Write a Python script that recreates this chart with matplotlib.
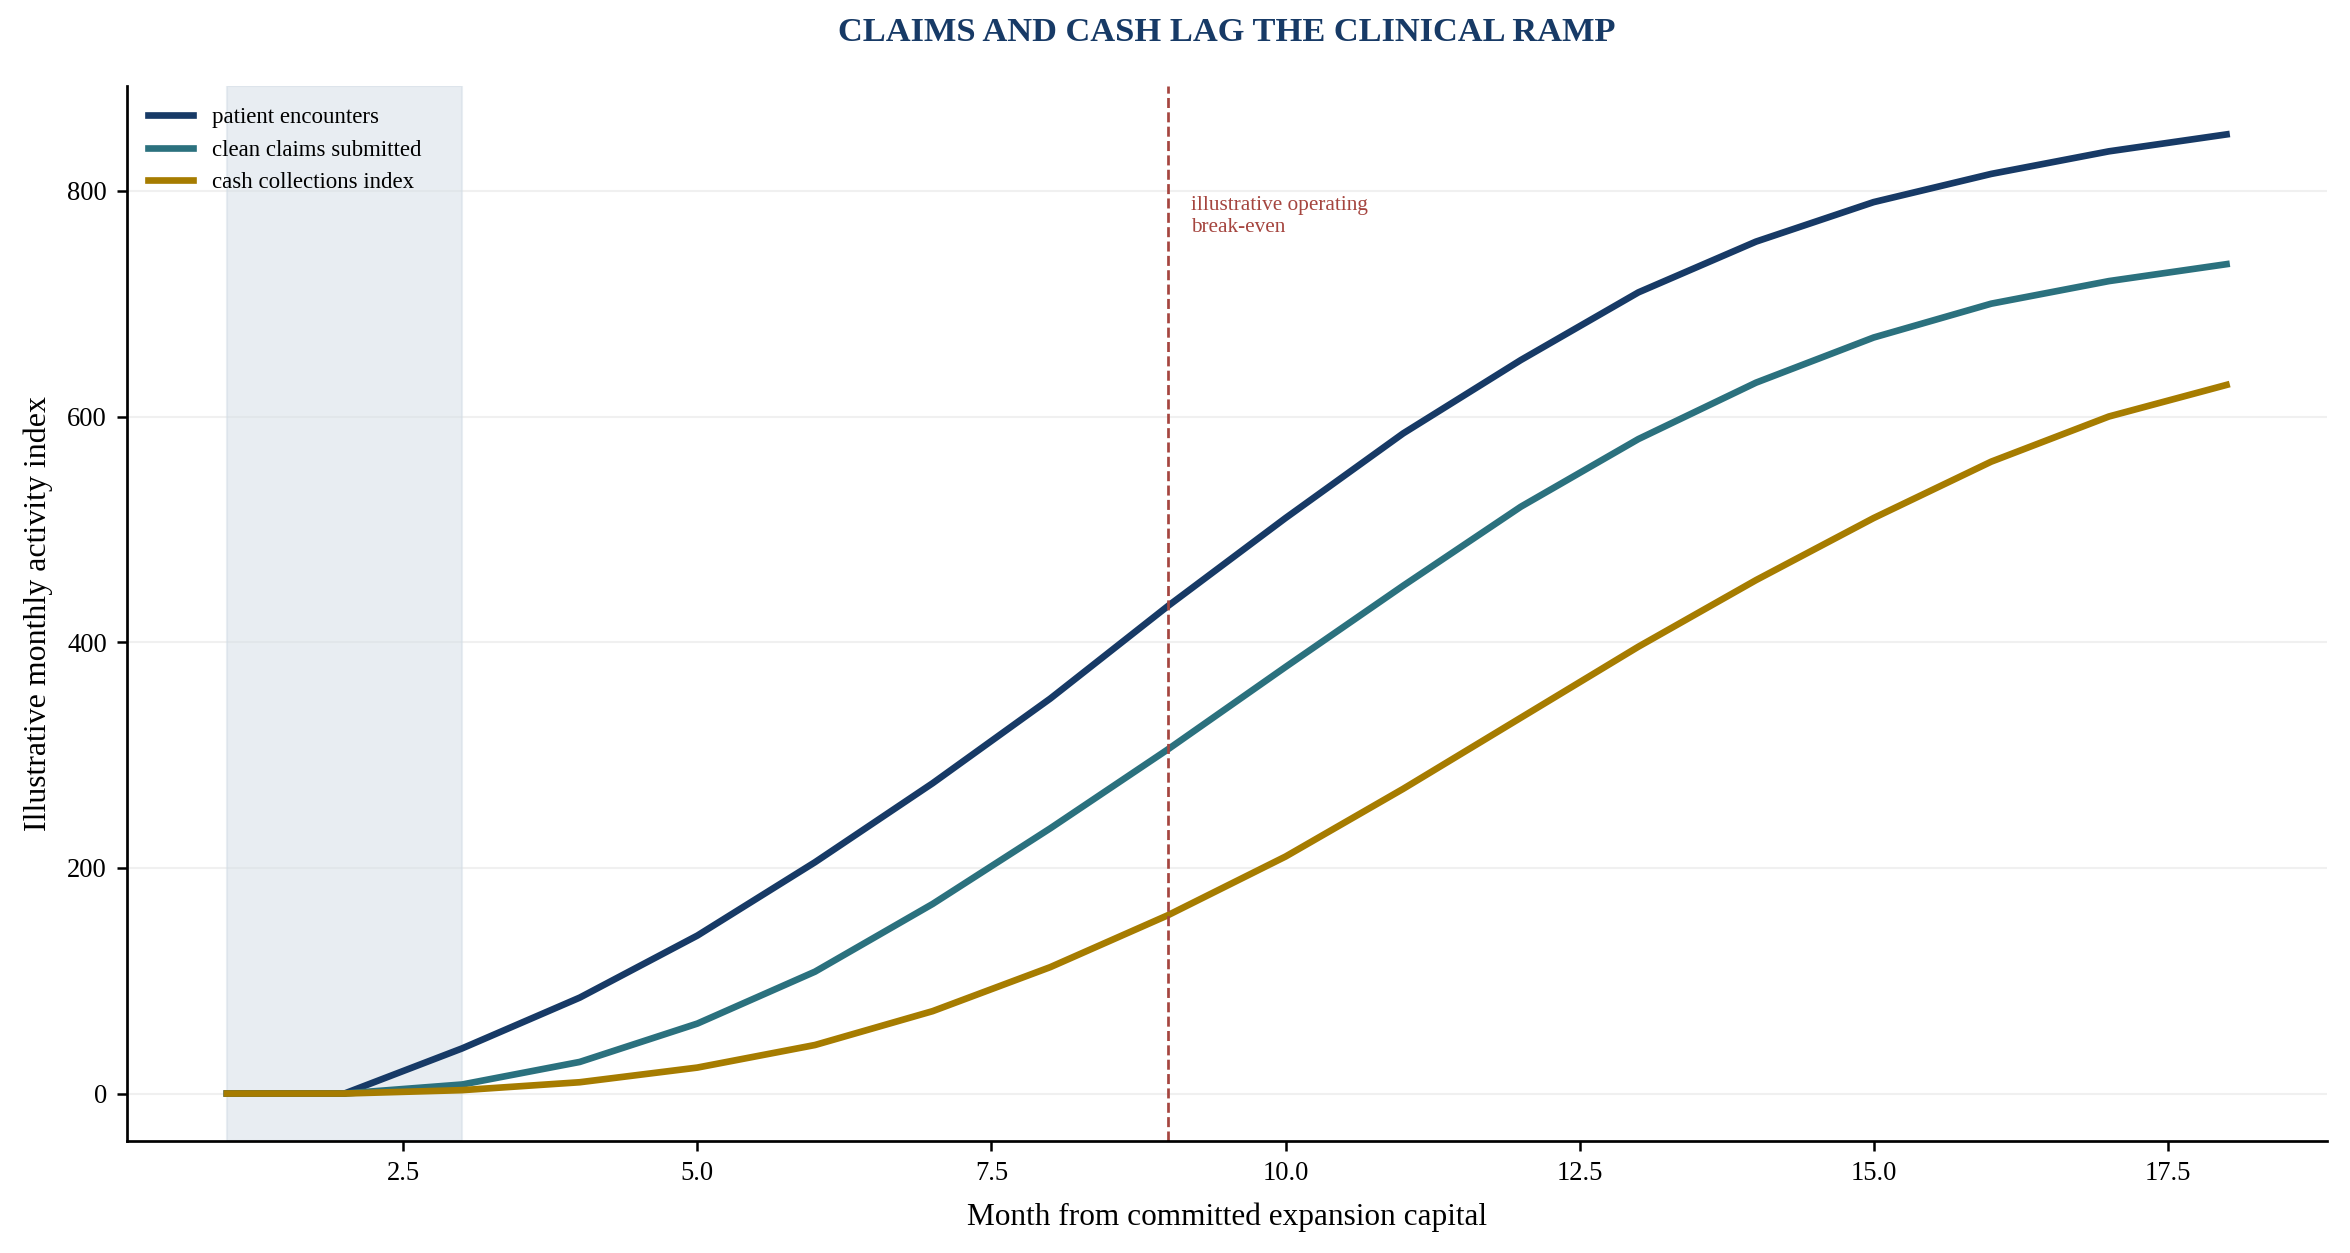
import matplotlib
matplotlib.use('agg')
import matplotlib.pyplot as plt

plt.rcParams['font.family'] = ['Liberation Serif', 'DejaVu Serif']

months = list(range(1, 19))
encounters = [0, 0, 40, 85, 140, 205, 275, 350, 432, 510, 585, 650, 710, 755, 790, 815, 835, 850]
claims = [0, 0, 8, 28, 62, 108, 168, 235, 305, 378, 450, 520, 580, 630, 670, 700, 720, 735]
cash = [0, 0, 3, 10, 23, 43, 73, 112, 158, 210, 270, 333, 396, 455, 510, 560, 600, 628]
labels = ['patient encounters', 'clean claims submitted', 'cash collections index']
colors = ['#173a66', '#2b717e', '#a67c00']
ramp_window = (1, 3)
breakeven_month = 9

fig = plt.figure(figsize=(2350 / 150, 1253 / 150), dpi=150)
ax = fig.add_axes([0.054, 0.089, 0.936, 0.842])

ax.axvspan(ramp_window[0], ramp_window[1], color='#d3dde6', alpha=0.5, lw=1)
for series, lab, col in zip([encounters, claims, cash], labels, colors):
    ax.plot(months, series, color=col, lw=3.2, label=lab)

ax.axvline(breakeven_month, color='#a5453f', ls='--', lw=1.3)
ax.text(breakeven_month + 0.2, 795, 'illustrative operating\nbreak-even', color='#a5453f',
        fontsize=10.2, va='top', ha='left')

ax.grid(axis='y', color='#f0f0f0', lw=1)
ax.set_axisbelow(True)
for s in ['top', 'right']:
    ax.spines[s].set_visible(False)
for s in ['left', 'bottom']:
    ax.spines[s].set_linewidth(1.3)
ax.tick_params(labelsize=12.8, length=5, width=1.2, pad=4.5)
ax.set_xlabel('Month from committed expansion capital', fontsize=15, labelpad=8)
ax.set_ylabel('Illustrative monthly activity index', fontsize=15.3, labelpad=7)
ax.legend(loc='upper left', frameon=False, fontsize=11)

pos = ax.get_position()
fig.text((pos.x0 + pos.x1) / 2, 0.974, 'CLAIMS AND CASH LAG THE CLINICAL RAMP', fontsize=16.5,
         fontweight='bold', color='#173a66', ha='center', va='center')

fig.savefig('out.png', dpi=150)
